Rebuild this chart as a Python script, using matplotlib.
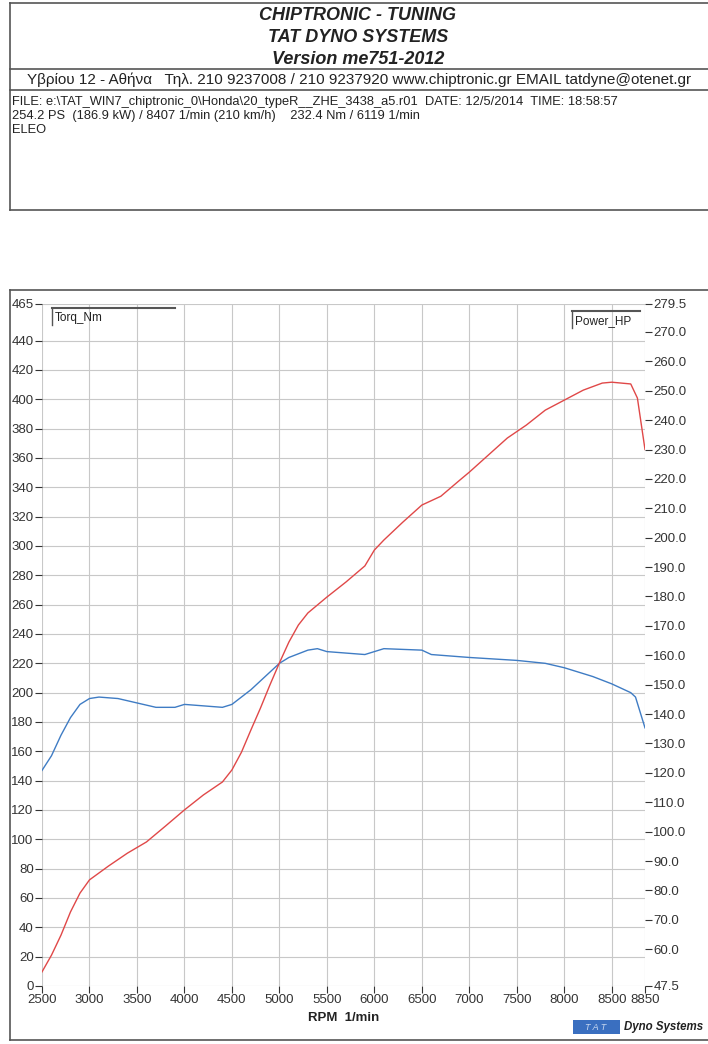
import matplotlib.pyplot as plt
from matplotlib.patches import Rectangle
from matplotlib.lines import Line2D

plt.rcParams['font.family'] = ['Liberation Sans', 'DejaVu Sans']

# torque curve (Nm, left axis)
rpm_tq = [2500, 2600, 2700, 2800, 2900, 3000, 3100, 3300, 3500, 3700, 3900, 4000, 4200, 4400,
          4500, 4700, 4900, 5000, 5100, 5300, 5400, 5500, 5700, 5900, 6000, 6100, 6500, 6600,
          7000, 7500, 7800, 8000, 8300, 8500, 8700, 8750, 8850]
torque = [147, 157, 171, 183, 192, 196, 197, 196, 193, 190, 190, 192, 191, 190,
          192, 202, 214, 220, 224, 229, 230, 228, 227, 226, 228, 230, 229, 226,
          224, 222, 220, 217, 211, 206, 200, 197, 176]

# power curve (HP, right axis)
rpm_hp = [2500, 2600, 2700, 2800, 2900, 3000, 3200, 3400, 3600, 3800, 4000, 4200, 4400, 4500,
          4600, 4700, 4800, 4900, 5000, 5100, 5200, 5300, 5400, 5500, 5700, 5900, 6000, 6100,
          6300, 6500, 6700, 6900, 7000, 7200, 7400, 7600, 7800, 8000, 8200, 8400, 8500, 8700,
          8770, 8850]
power = [52.3, 58.0, 64.8, 72.7, 79.1, 83.6, 88.3, 92.7, 96.5, 101.9, 107.4, 112.5, 116.9, 121.0,
         127.0, 134.6, 142.0, 149.9, 157.4, 164.5, 170.3, 174.4, 177.1, 179.8, 184.9, 190.4, 195.8, 199.2,
         205.3, 211.1, 214.1, 219.6, 222.3, 228.1, 233.9, 238.3, 243.4, 246.8, 250.2, 252.6, 252.9, 252.3,
         247.5, 230.0]

x_ticks = [2500, 3000, 3500, 4000, 4500, 5000, 5500, 6000, 6500, 7000, 7500, 8000, 8500, 8850]
left_ticks = list(range(0, 441, 20)) + [465]
right_ticks = [47.5] + list(range(60, 271, 10)) + [279.5]

header_lines = ["CHIPTRONIC - TUNING", "TAT DYNO SYSTEMS", "Version me751-2012"]
address = "Υβρίου 12 - Αθήνα   Τηλ. 210 9237008 / 210 9237920 www.chiptronic.gr EMAIL tatdyne@otenet.gr"
info_lines = ["FILE: e:\\TAT_WIN7_chiptronic_0\\Honda\\20_typeR__ZHE_3438_a5.r01  DATE: 12/5/2014  TIME: 18:58:57",
              "254.2 PS  (186.9 kW) / 8407 1/min (210 km/h)    232.4 Nm / 6119 1/min",
              "ELEO"]

W, H = 708, 1044
fig = plt.figure(figsize=(W / 100, H / 100), dpi=100)
fig.patch.set_facecolor('white')

def fx(px):
    return px / W

def fy(py):
    return 1 - py / H

# header box
border = '#555555'
for (x0, y0, x1, y1) in [(10, 3, 708, 3), (10, 3, 10, 210), (10, 69, 708, 69),
                         (10, 90, 708, 90), (10, 210, 708, 210)]:
    fig.add_artist(Line2D([fx(x0), fx(x1)], [fy(y0), fy(y1)], color=border, lw=1.2))

for i, t in enumerate(header_lines):
    fig.text(fx(358), fy(15 + i * 22), t, ha='center', va='center', fontsize=13,
             fontweight='bold', style='italic', color='#222222')
fig.text(fx(359), fy(80), address, ha='center', va='center', fontsize=11, color='#222222')
for i, t in enumerate(info_lines):
    fig.text(fx(12), fy(102 + i * 14), t, ha='left', va='center', fontsize=9.3, color='#222222')

# chart frame
for (x0, y0, x1, y1) in [(10, 290, 708, 290), (10, 290, 10, 1040), (10, 1040, 708, 1040)]:
    fig.add_artist(Line2D([fx(x0), fx(x1)], [fy(y0), fy(y1)], color=border, lw=1.2))

ax = fig.add_axes([fx(42), fy(986), fx(645) - fx(42), fy(304) - fy(986)])
ax2 = ax.twinx()

ax.set_xlim(2500, 8850)
ax.set_ylim(0, 465)
ax2.set_ylim(47.5, 279.5)

ax.set_xticks(x_ticks)
ax.set_xticklabels([str(v) for v in x_ticks], fontsize=9.5)
ax.set_yticks(left_ticks)
ax.set_yticklabels([str(v) for v in left_ticks], fontsize=9.5)
ax2.set_yticks(right_ticks)
ax2.set_yticklabels(['%.1f' % v for v in right_ticks], fontsize=9.5)

ax.tick_params(axis='both', colors='#333333', length=5, width=0.8, pad=1)
ax2.tick_params(axis='y', colors='#333333', length=5, width=0.8, pad=1)

ax.grid(True, color='#c8c8c8', lw=0.8)
ax.set_axisbelow(True)
for a in (ax, ax2):
    for s in a.spines.values():
        s.set_visible(False)

ax.plot(rpm_tq, torque, color='#3f7cc4', lw=1.0, zorder=3)
ax2.plot(rpm_hp, power, color='#e04848', lw=1.0, zorder=3)

ax.set_xlabel('RPM  1/min', fontsize=9.5, fontweight='bold', labelpad=4, color='#222222')

# series labels
fig.add_artist(Line2D([fx(52), fx(175)], [fy(308), fy(308)], color='#555555', lw=1.5))
fig.add_artist(Line2D([fx(52), fx(52)], [fy(308), fy(325)], color='#555555', lw=1.0))
fig.text(fx(55), fy(318), 'Torq_Nm', ha='left', va='center', fontsize=8.5, color='#222222')
fig.add_artist(Line2D([fx(572), fx(640)], [fy(311), fy(311)], color='#555555', lw=1.5))
fig.add_artist(Line2D([fx(572), fx(572)], [fy(311), fy(328)], color='#555555', lw=1.0))
fig.text(fx(575), fy(321), 'Power_HP', ha='left', va='center', fontsize=8.5, color='#222222')

# logo
fig.add_artist(Rectangle((fx(573), fy(1034)), fx(620) - fx(573), fy(1020) - fy(1034),
                         facecolor='#3a6fc0', edgecolor='none'))
fig.text(fx(596), fy(1027), 'T A T', ha='center', va='center', fontsize=6.5, style='italic',
         color='#c8d8f0')
fig.text(fx(624), fy(1027), 'Dyno Systems', ha='left', va='center', fontsize=8.3, style='italic',
         fontweight='bold', color='#222222')

fig.savefig('out.png', dpi=100)
